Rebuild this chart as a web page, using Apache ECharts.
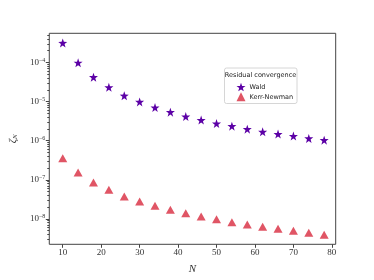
<!DOCTYPE html>
<html><head><meta charset="utf-8">
<script src="https://cdn.jsdelivr.net/npm/echarts@6/dist/echarts.min.js"></script>
<style>html,body{margin:0;padding:0;background:#fff}#c{width:374px;height:280px}</style>
</head><body><div id="c"></div>
<script>
const N = [10,14,18,22,26,30,34,38,42,46,50,54,58,62,66,70,74,78];
const wald = [3.15e-4,9.8e-5,4.2e-5,2.31e-5,1.41e-5,9.8e-6,7.0e-6,5.36e-6,4.13e-6,3.36e-6,2.74e-6,2.35e-6,1.97e-6,1.68e-6,1.47e-6,1.31e-6,1.14e-6,1.03e-6];
const kerrNewman = [3.56e-7,1.53e-7,8.5e-8,5.57e-8,3.76e-8,2.8e-8,2.18e-8,1.72e-8,1.39e-8,1.15e-8,9.8e-9,8.2e-9,7.2e-9,6.25e-9,5.57e-9,4.95e-9,4.4e-9,3.9e-9];
const xTicks = [10,20,30,40,50,60,70,80];
const yDecades = [-8,-7,-6,-5,-4];
const seriesNames = ['Wald','Kerr-Newman'];
const legendTitle = 'Residual convergence';

const minorVals = [];
for (let d = -9; d <= -3; d++) for (let k = 2; k <= 9; k++) {
  const v = d + Math.log10(k);
  if (v > -8.65 && v < -3.255) minorVals.push(v);
}
const toPts = arr => arr.map((v,i)=>[N[i], Math.log10(v)]);
const serif = 'Liberation Serif';
const chart = echarts.init(document.getElementById('c'));
chart.setOption({
  animation:false,
  grid:{left:46.3, top:33.3, right:38.3, bottom:35.7, show:true, borderColor:'#444', borderWidth:1, backgroundColor:'transparent'},
  xAxis:{type:'value', min:6.5, max:81.0,
    name:'N', nameLocation:'middle', nameGap:19,
    nameTextStyle:{fontFamily:serif, fontStyle:'italic', fontSize:11, color:'#333'},
    axisLine:{show:false}, splitLine:{show:false},
    axisTick:{customValues:xTicks, length:3.5, lineStyle:{color:'#444'}},
    axisLabel:{customValues:xTicks, fontFamily:serif, fontSize:9, color:'#333', margin:4}},
  yAxis:[{type:'value', min:-8.65, max:-3.255,
    name:'{z|ζ}{s|N}', nameLocation:'middle', nameGap:27, nameRotate:90,
    nameTextStyle:{rich:{z:{fontFamily:serif, fontStyle:'italic', fontSize:11, color:'#333'}, s:{fontFamily:serif, fontStyle:'italic', fontSize:7, color:'#333', verticalAlign:'bottom', padding:[4,0,0,0]}}},
    axisLine:{show:false}, splitLine:{show:false},
    axisTick:{customValues:yDecades, length:3.5, lineStyle:{color:'#444'}},
    axisLabel:{customValues:yDecades, margin:4,
      formatter: v => '{b|10}{e|' + String(v).replace('-','−') + '}',
      rich:{b:{fontFamily:serif, fontSize:9, color:'#333'}, e:{fontFamily:serif, fontSize:6, color:'#333', verticalAlign:'top', padding:[0,0,5,0]}}}},
   {type:'value', min:-8.65, max:-3.255, position:'left',
    axisLine:{show:false}, splitLine:{show:false}, axisLabel:{show:false},
    axisTick:{customValues:minorVals, length:2, lineStyle:{color:'#444'}}}],
  legend:{orient:'vertical', left:236.5, top:82.8, padding:0, itemWidth:9, itemHeight:9, itemGap:1,
    data:seriesNames, textStyle:{fontFamily:'DejaVu Sans', fontSize:6.5, color:'#222', padding:[0,0,0,-1]}},
  graphic:[
    {type:'rect', shape:{x:224.5, y:68, width:72.5, height:35.5, r:2}, style:{fill:'#fff', stroke:'#ccc', lineWidth:0.8}, z:1},
    {type:'text', x:260.5, y:75.7, style:{text:legendTitle, font:'6.5px "DejaVu Sans"', fill:'#222', align:'center', verticalAlign:'middle'}, z:2}
  ],
  series:[
    {name:seriesNames[0], type:'scatter', symbol:'path://M0,-10L2.35,-3.24L9.51,-3.09L3.8,1.24L5.88,8.09L0,4L-5.88,8.09L-3.8,1.24L-9.51,-3.09L-2.35,-3.24Z', symbolSize:9, itemStyle:{color:'#5c01a6', opacity:1}, data:toPts(wald)},
    {name:seriesNames[1], type:'scatter', symbol:'triangle', symbolSize:[9,8], itemStyle:{color:'#e05565', opacity:1}, data:toPts(kerrNewman)}
  ]
});
</script></body></html>
